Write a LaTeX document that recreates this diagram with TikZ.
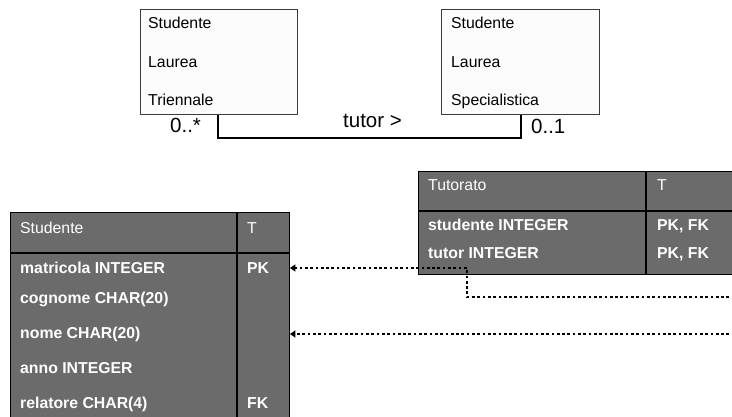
\documentclass[tikz,border=0pt]{standalone}
\usepackage{fontspec}
\setmainfont{Liberation Sans}
\usetikzlibrary{arrows.meta}
\definecolor{tgray}{RGB}{107,107,107}
\definecolor{boxfill}{RGB}{252,252,252}
\definecolor{boxline}{RGB}{60,60,60}
\begin{document}
\begin{tikzpicture}[x=1pt,y=-1pt,
  umlbox/.style={draw=boxline, fill=boxfill, line width=0.9pt, anchor=north west, inner sep=0pt},
  umltext/.style={anchor=base west, inner sep=0pt, font=\fontsize{15.8}{18}\selectfont},
  lbl/.style={anchor=base west, inner sep=0pt, font=\fontsize{20.5}{24}\selectfont},
  tbl/.style={draw=black, fill=tgray, line width=0.9pt, anchor=north west, inner sep=0pt},
  sep/.style={draw=black, line width=1.1pt},
  hdr/.style={anchor=base west, inner sep=0pt, text=white, font=\fontsize{15.8}{18}\selectfont},
  rowtext/.style={anchor=base west, inner sep=0pt, text=white, font=\fontsize{15.8}{18}\selectfont\bfseries},
  assoc/.style={line width=2.2pt},
  fk/.style={line width=2.9pt, dash pattern=on 2.7pt off 2.6pt},
  fkarrow/.style={fk, -{Triangle[length=5.5pt,width=7pt]}},
]
\path[use as bounding box] (0,0) rectangle (732,417);
\clip (0,0) rectangle (732,417);

% UML classes
\node[umlbox, minimum width=157pt, minimum height=105pt] (b1) at (140,9) {};
\node[umltext] (b1a) at (148,29) {Studente};
\node[umltext] (b1b) at (148,68) {Laurea};
\node[umltext] (b1c) at (148,106) {Triennale};

\node[umlbox, minimum width=158pt, minimum height=105pt] (b2) at (441,9) {};
\node[umltext] (b2a) at (451,29) {Studente};
\node[umltext] (b2b) at (451,68) {Laurea};
\node[umltext] (b2c) at (451,106) {Specialistica};

\coordinate (c1) at (b1.south west -| 218,0);
\coordinate (c2) at (b2.south west -| 521,0);
\draw[assoc] (c1) -- ++(0,23) -| (c2);
\node[lbl] (m1) at (170,133) {0..*};
\node[lbl] (rn) at (343,128) {tutor >};
\node[lbl] (m2) at (531,134) {0..1};

% Studente table
\node[tbl, minimum width=279pt, minimum height=230pt] (stud) at (10,212) {};
\draw[sep] (stud.west |- 0,253) -- (stud.east |- 0,253);
\draw[sep] (237,212) -- (237,430);
\node[hdr] (sh) at (20,234) {Studente};
\node[hdr] (sht) at (247,234) {T};
\node[rowtext] (r1) at (20,274) {matricola INTEGER};
\node[rowtext] (r1t) at (247,274) {PK};
\node[rowtext] (r2) at (20,303) {cognome CHAR(20)};
\node[rowtext] (r3) at (20,338) {nome CHAR(20)};
\node[rowtext] (r4) at (20,373) {anno INTEGER};
\node[rowtext] (r5) at (20,408) {relatore CHAR(4)};
\node[rowtext] (r5t) at (247,408) {FK};

% Tutorato table
\node[tbl, minimum width=340pt, minimum height=103pt] (tut) at (418,171) {};
\draw[sep] (tut.west |- 0,211) -- (tut.east |- 0,211);
\draw[sep] (646,171) -- (646,274);
\node[hdr] (th) at (428,191) {Tutorato};
\node[hdr] (tht) at (657,191) {T};
\node[rowtext] (t1r) at (428,231) {studente INTEGER};
\node[rowtext] (t1t) at (657,231) {PK, FK};
\node[rowtext] (t2r) at (428,259) {tutor INTEGER};
\node[rowtext] (t2t) at (657,259) {PK, FK};

% foreign key connectors
\coordinate (k1) at (745,297);
\coordinate (kb) at (467,268);
\draw[fkarrow] (k1) -- (467,297) -- (kb) -- (stud.east |- kb);
\coordinate (k2) at (745,334);
\draw[fkarrow] (k2) -- (stud.east |- k2);
\end{tikzpicture}
\end{document}
